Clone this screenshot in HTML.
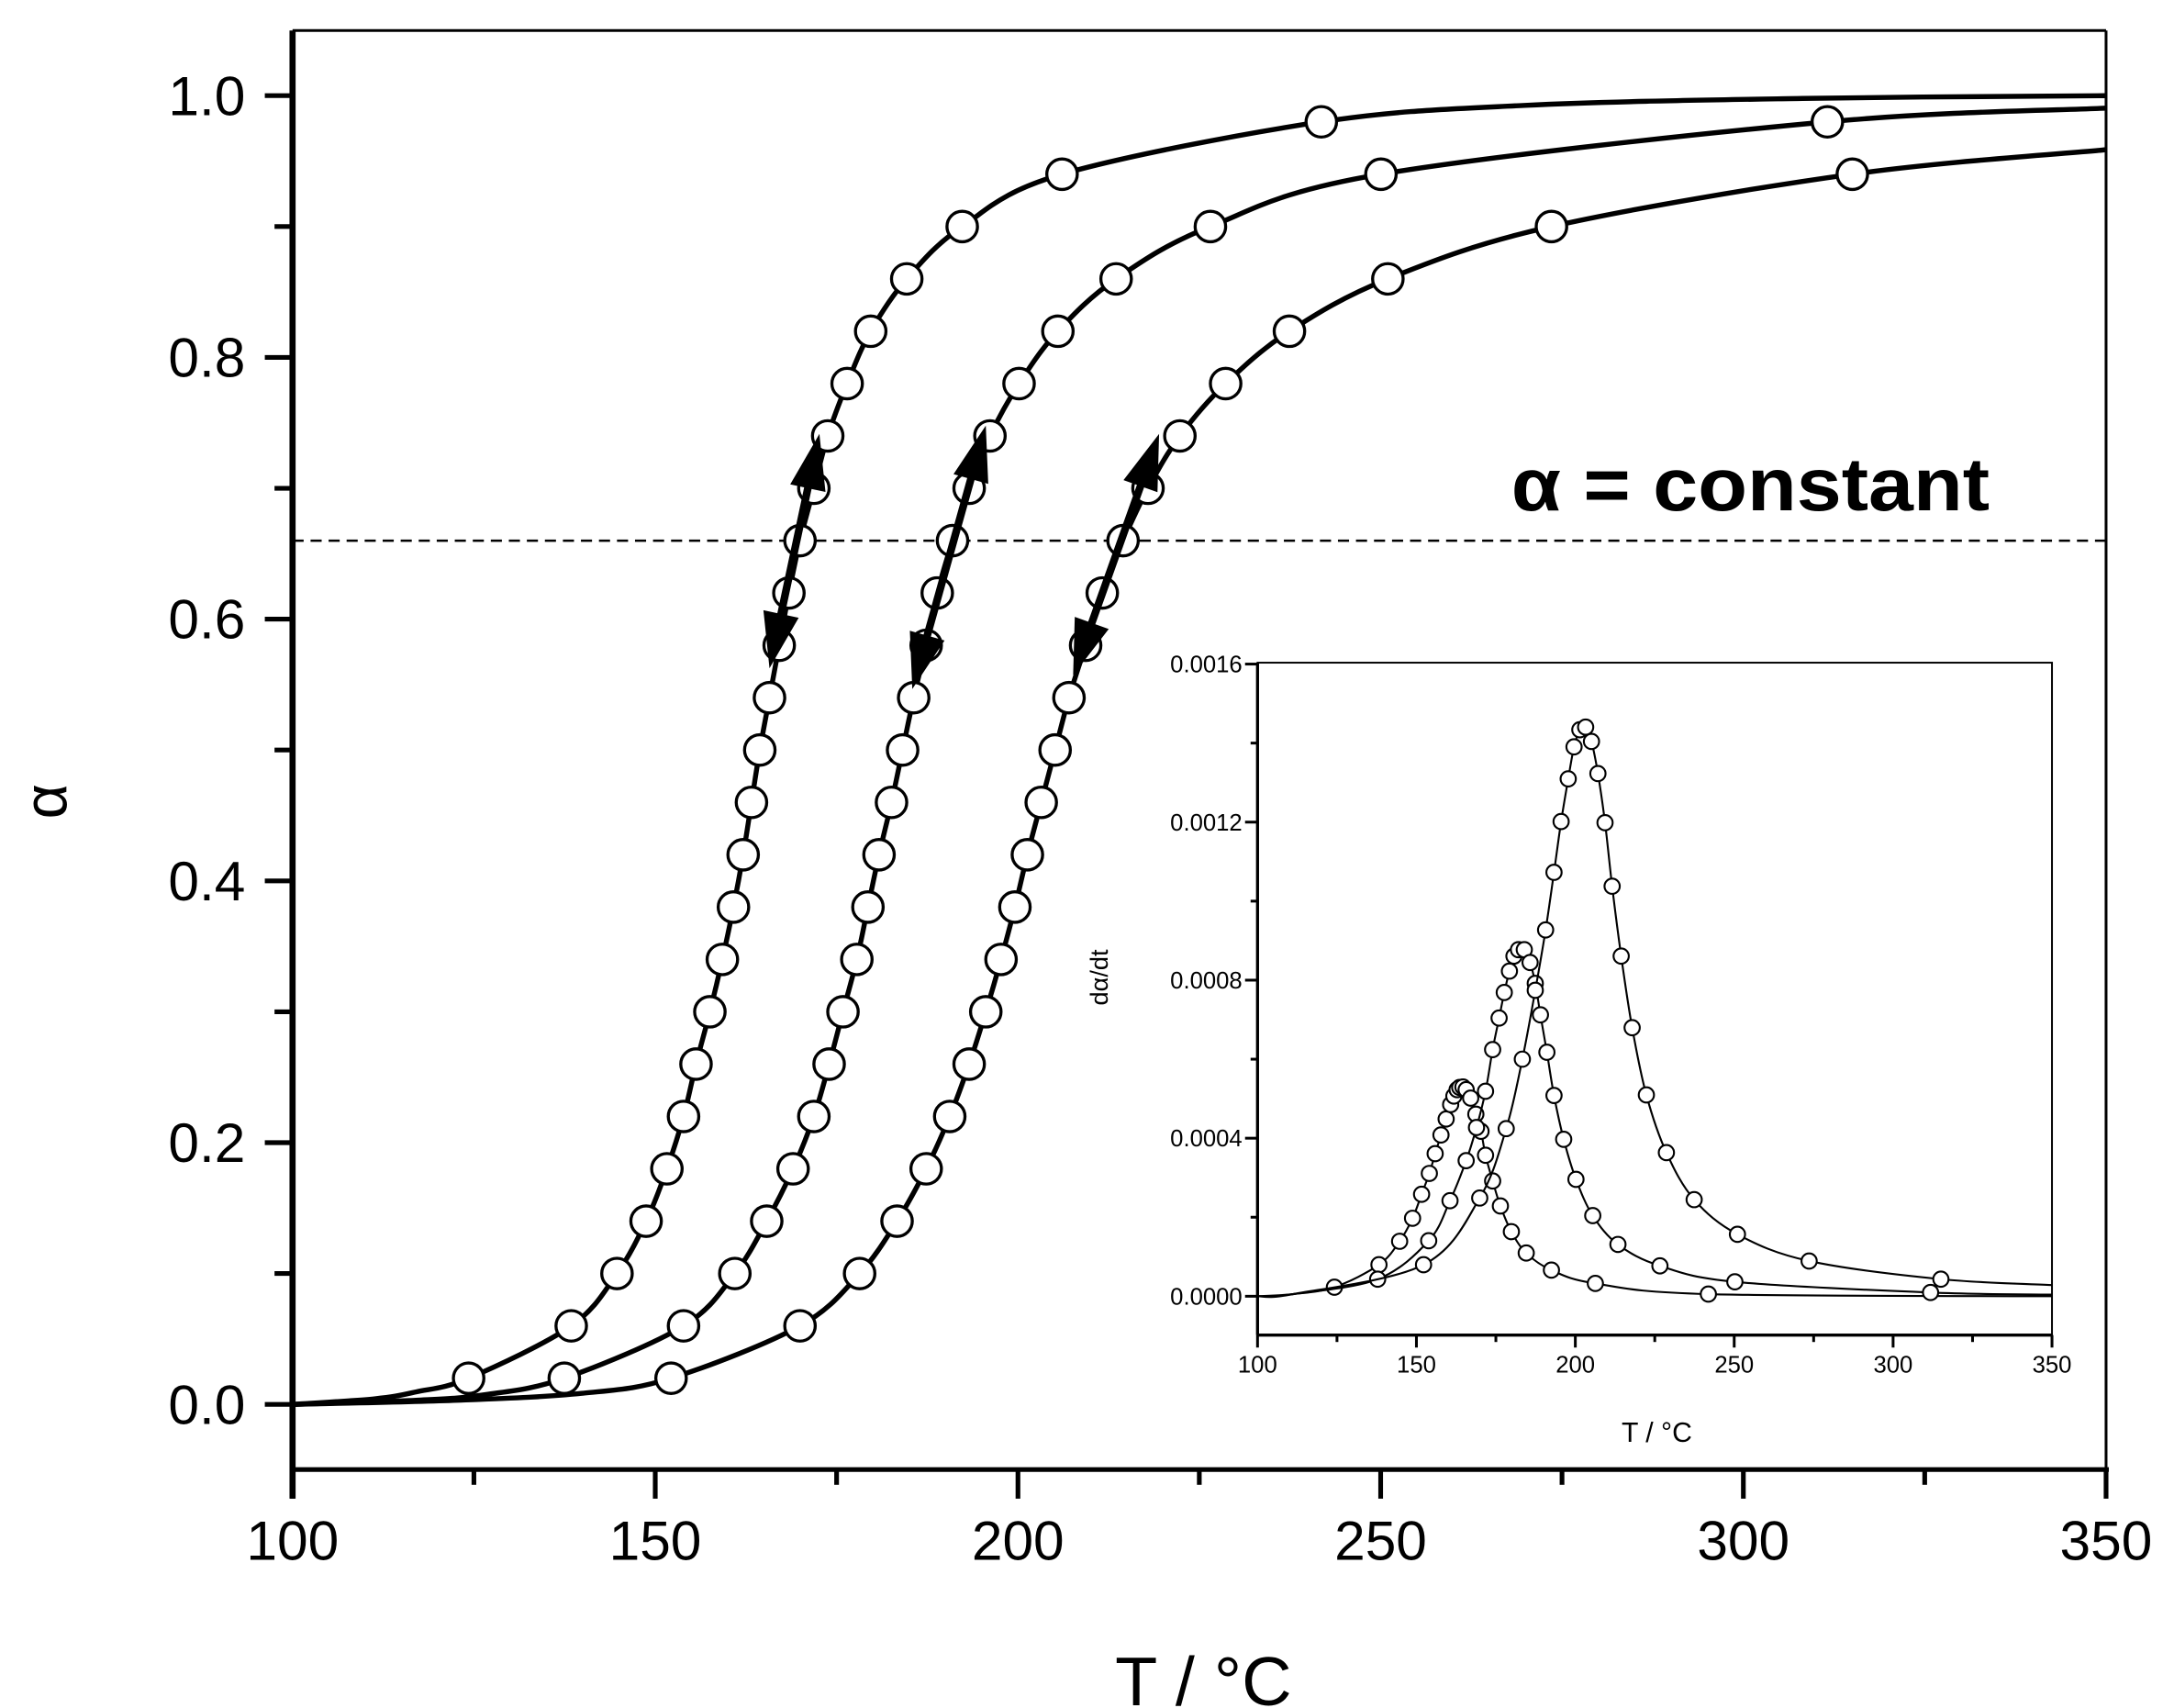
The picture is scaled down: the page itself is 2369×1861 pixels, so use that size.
<!DOCTYPE html>
<html><head><meta charset="utf-8"><style>html,body{margin:0;padding:0;background:#fff}svg{display:block}</style></head>
<body>
<svg id="s" xmlns="http://www.w3.org/2000/svg" width="2369" height="1861" viewBox="0 0 1568 1232" preserveAspectRatio="none" font-family="'Liberation Sans', Arial, sans-serif">
<rect width="1568" height="1232" fill="#fff"/>
<g id="g"></g>
</svg>
<script>
const NS="http://www.w3.org/2000/svg",G=document.getElementById('g');
function el(t,a,txt){const e=document.createElementNS(NS,t);for(const k in a)e.setAttribute(k,a[k]);if(txt!==undefined)e.textContent=txt;G.appendChild(e);return e;}
function spline(p){let d='M'+p[0][0]+','+p[0][1];for(let i=0;i<p.length-1;i++){const p0=p[i-1]||p[i],p1=p[i],p2=p[i+1],p3=p[i+2]||p2;const c1=[p1[0]+(p2[0]-p0[0])/6,p1[1]+(p2[1]-p0[1])/6],c2=[p2[0]-(p3[0]-p1[0])/6,p2[1]-(p3[1]-p1[1])/6];d+=' C'+c1.join(',')+' '+c2.join(',')+' '+p2.join(',');}return d;}
// main axes
const L=211,R=1519,T=22,B=1060;
const yA=a=>1013-944*a, xT=t=>211+(t-100)*5.232;
el('line',{x1:L,y1:T,x2:R,y2:T,stroke:'#000','stroke-width':2});
el('line',{x1:R,y1:T,x2:R,y2:B,stroke:'#000','stroke-width':2});
el('line',{x1:L,y1:T,x2:L,y2:B+21,stroke:'#000','stroke-width':4.4});
el('line',{x1:L-2,y1:B,x2:R+2,y2:B,stroke:'#000','stroke-width':3.4});
for(let i=0;i<=10;i++){const y=yA(i/10),maj=i%2==0;el('line',{x1:L-(maj?20:13),y1:y,x2:L,y2:y,stroke:'#000','stroke-width':3.4});
 if(maj)el('text',{x:177,y:y+14,'font-size':40,'text-anchor':'end'},(i/10).toFixed(1));}
for(let t=100;t<=350;t+=25){const x=xT(t),maj=t%50==0;el('line',{x1:x,y1:B,x2:x,y2:B+(maj?21:11),stroke:'#000','stroke-width':3.4});
 if(maj)el('text',{x:x,y:1125,'font-size':40,'text-anchor':'middle'},String(t));}
el('text',{x:868,y:1230,'font-size':50,'text-anchor':'middle'},'T / °C');
el('text',{x:48,y:578,'font-size':44,'text-anchor':'middle',transform:'rotate(-90 48 578)'},'α');
el('line',{x1:L,y1:390,x2:R,y2:390,stroke:'#000','stroke-width':1.6,'stroke-dasharray':'8,5'});
el('text',{x:1090,y:368,'font-size':54,'font-weight':'bold',textLength:345,lengthAdjust:'spacingAndGlyphs'},'α = constant');
const als=[];for(let a=0.02;a<0.99;a+=0.04)als.push(+a.toFixed(2));
const X1=[338,412,445,466,481,493,502,512,521,529,536,542,548,555,562,569,577,587,597,611,628,654,694,766,953];
const X2=[407,493,530,553,572,587,598,608,618,626,634,643,651,659,668,676,687,699,714,735,763,805,873,996,1318];
const X3=[484,577,620,647,668,685,699,711,722,732,741,751,761,771,783,795,810,828,851,884,930,1001,1119,1336];
const curves=[[X1,[[211,1013],[270,1009],[300,1004]],[[1100,76],[1300,71],[1519,69]]],
 [X2,[[211,1013],[300,1010],[350,1006]],[[1519,78]]],
 [X3,[[211,1013],[330,1010],[420,1005]],[[1519,108]]]];
curves.forEach(([X,pre,post])=>{const pts=pre.concat(X.map((x,i)=>[x,yA(als[i])])).concat(post);
 el('path',{d:spline(pts),fill:'none',stroke:'#000','stroke-width':3.6});
 X.forEach((x,i)=>el('circle',{cx:x,cy:yA(als[i]),r:11,fill:'#fff',stroke:'#000','stroke-width':2.2}));});
// arrows
function arrow(x1,y1,x2,y2){const dx=x2-x1,dy=y2-y1,l=Math.hypot(dx,dy),ux=dx/l,uy=dy/l,nx=-uy,ny=ux,h=40,w=13;
 el('line',{x1:x1+ux*h*0.8,y1:y1+uy*h*0.8,x2:x2-ux*h*0.8,y2:y2-uy*h*0.8,stroke:'#000','stroke-width':5.5});
 [[x1,y1,1],[x2,y2,-1]].forEach(([x,y,s])=>{const bx=x+s*ux*h,by=y+s*uy*h;
 el('polygon',{points:`${x},${y} ${bx+nx*w},${by+ny*w} ${bx-nx*w},${by-ny*w}`,fill:'#000'});});}
arrow(591,313,555,482);arrow(711,307,658,497);arrow(836,313,774,487);
// inset
const iL=907,iR=1480,iT=478,iB=963;
el('rect',{x:iL,y:iT,width:iR-iL,height:iB-iT,fill:'#fff',stroke:'#000','stroke-width':1.3});
el('line',{x1:iL,y1:iT,x2:iL,y2:iB,stroke:'#000','stroke-width':2.2});
el('line',{x1:iL,y1:iB,x2:iR,y2:iB,stroke:'#000','stroke-width':2.2});
const iy=v=>935-v/0.0004*114, ix=t=>iL+(t-100)*2.292;
for(let i=0;i<=8;i++){const v=i*0.0002,y=iy(v),maj=i%2==0;el('line',{x1:iL-(maj?9:5),y1:y,x2:iL,y2:y,stroke:'#000','stroke-width':2});
 if(maj)el('text',{x:iL-11,y:y+6,'font-size':17,'text-anchor':'end'},v.toFixed(4));}
for(let t=100;t<=350;t+=25){const x=ix(t),maj=t%50==0;el('line',{x1:x,y1:iB,x2:x,y2:iB+(maj?9:5),stroke:'#000','stroke-width':2});
 if(maj)el('text',{x:x,y:iB+27,'font-size':17,'text-anchor':'middle'},String(t));}
el('text',{x:1195,y:1040,'font-size':20,'text-anchor':'middle'},'T / °C');
el('text',{x:799,y:705,'font-size':18,'text-anchor':'middle',transform:'rotate(-90 799 705)'},'dα/dt');
const zx=x=>iL+(x-245)/1230*573, zy=y=>935-(1249-y)/1184*456;
const A=[[364,1232],[433,1190],[465,1146],[485,1103],[499,1058],[511,1019],[520,982],[529,947],[537,917],[544,890],[549,874],[554,862],[558,858],[563,857],[568,862],[575,878],[583,908],[591,940],[598,985],[609,1033],[621,1080],[638,1128],[661,1168],[700,1200],[768,1225],[943,1245]];
const Bc=[[431,1217],[510,1145],[543,1070],[568,995],[584,933],[598,865],[609,787],[619,728],[627,680],[635,640],[642,612],[649,600],[658,600],[667,624],[675,663],[683,722],[693,792],[704,873],[719,955],[738,1030],[764,1098],[803,1152],[868,1192],[984,1222],[1287,1242]];
const C=[[502,1190],[589,1065],[630,935],[655,805],[675,676],[691,563],[704,455],[715,360],[726,280],[735,220],[744,188],[753,183],[762,210],[772,270],[783,362],[794,481],[808,612],[825,746],[847,872],[878,980],[921,1068],[988,1133],[1099,1183],[1303,1217]];
[[A,[[1475,1249]]],[Bc,[[1475,1246]]],[C,[[1475,1228]]]].forEach(([P,post])=>{
 const pts=[[245,1249],[300,1245]].concat(P).concat(post).map(p=>[+zx(p[0]).toFixed(2),+zy(p[1]).toFixed(2)]);
 el('path',{d:spline(pts),fill:'none',stroke:'#000','stroke-width':1.4});
 P.forEach(p=>el('circle',{cx:zx(p[0]),cy:zy(p[1]),r:5.5,fill:'#fff',stroke:'#000','stroke-width':1.4}));});
</script>
</body></html>
